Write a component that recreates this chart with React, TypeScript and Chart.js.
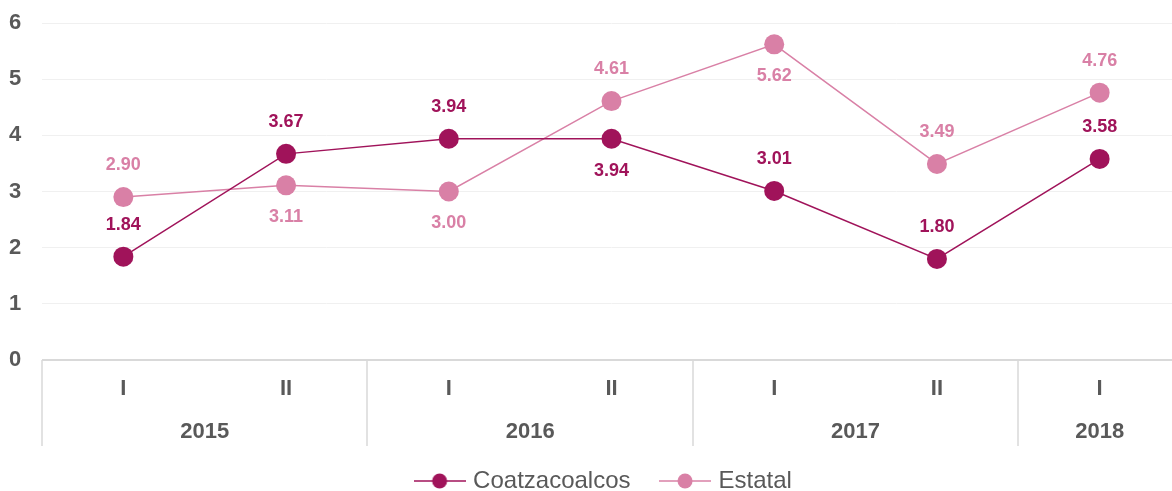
import React, { useEffect, useRef } from "react";
import { Chart, registerables } from "chart.js";

Chart.register(...registerables);

const periods = ["I", "II", "I", "II", "I", "II", "I"];
const years = ["2015", "2016", "2017", "2018"];
const yearSpans: number[][] = [[0, 1], [2, 3], [4, 5], [6, 6]];
const coatzacoalcos = [1.84, 3.67, 3.94, 3.94, 3.01, 1.8, 3.58];
const estatal = [2.9, 3.11, 3.0, 4.61, 5.62, 3.49, 4.76];
const coatzLabelPos = ["above", "above", "above", "below", "above", "above", "above"];
const estatalLabelPos = ["above", "below", "below", "above", "below", "above", "above"];
const seriesNames = ["Coatzacoalcos", "Estatal"];

const COATZ = "#A0135A";
const ESTATAL = "#D980A6";
const GRAY = "#595959";
const FONT = "Arial, 'Liberation Sans', sans-serif";

function makeMarker(color: string) {
  const c = document.createElement("canvas");
  c.width = 52;
  c.height = 18;
  const g = c.getContext("2d")!;
  g.strokeStyle = color;
  g.lineWidth = 1.5;
  g.beginPath();
  g.moveTo(0, 9);
  g.lineTo(52, 9);
  g.stroke();
  g.fillStyle = color;
  g.beginPath();
  g.arc(26, 9, 7.5, 0, Math.PI * 2);
  g.fill();
  return c;
}

const dataLabelsPlugin = {
  id: "dataLabels",
  afterDatasetsDraw(chart: any) {
    const ctx = chart.ctx;
    const positions = [coatzLabelPos, estatalLabelPos];
    const colors = [COATZ, ESTATAL];
    ctx.save();
    ctx.font = `bold 18px ${FONT}`;
    ctx.textAlign = "center";
    ctx.textBaseline = "middle";
    chart.data.datasets.forEach((ds: any, di: number) => {
      const meta = chart.getDatasetMeta(di);
      ctx.fillStyle = colors[di];
      meta.data.forEach((pt: any, i: number) => {
        const v = ds.data[i] as number;
        const dy = positions[di][i] === "above" ? -32 : 32;
        ctx.fillText(v.toFixed(2), pt.x, pt.y + dy);
      });
    });
    ctx.restore();
  },
};

const xAxisPlugin = {
  id: "twoLevelAxis",
  afterDraw(chart: any) {
    const ctx = chart.ctx;
    const xs = chart.scales.x;
    const area = chart.chartArea;
    const bottom = area.bottom;
    ctx.save();
    ctx.strokeStyle = "#d9d9d9";
    ctx.lineWidth = 1.5;
    const bounds = [0, 2, 4, 6];
    bounds.forEach((b) => {
      const x = Math.round(xs.getPixelForValue(b - 0.5));
      ctx.beginPath();
      ctx.moveTo(x, bottom);
      ctx.lineTo(x, bottom + 86);
      ctx.stroke();
    });
    ctx.fillStyle = GRAY;
    ctx.textAlign = "center";
    ctx.textBaseline = "middle";
    ctx.font = `bold 22px ${FONT}`;
    periods.forEach((p, i) => {
      ctx.fillText(p, xs.getPixelForValue(i), bottom + 29);
    });
    years.forEach((y, i) => {
      const [a, b] = yearSpans[i];
      const x = (xs.getPixelForValue(a) + xs.getPixelForValue(b)) / 2;
      ctx.fillText(y, x, bottom + 72);
    });
    ctx.restore();
  },
};

export default function App() {
  const ref = useRef<HTMLCanvasElement | null>(null);

  useEffect(() => {
    if (!ref.current) return;
    const markers = [makeMarker(COATZ), makeMarker(ESTATAL)];
    const chart = new Chart(ref.current, {
      type: "line",
      data: {
        labels: periods,
        datasets: [
          {
            label: seriesNames[0],
            data: coatzacoalcos,
            borderColor: COATZ,
            backgroundColor: COATZ,
            borderWidth: 1.5,
            pointRadius: 10,
            pointHoverRadius: 10,
            pointBorderWidth: 0,
            pointBackgroundColor: COATZ,
            tension: 0,
          },
          {
            label: seriesNames[1],
            data: estatal,
            borderColor: ESTATAL,
            backgroundColor: ESTATAL,
            borderWidth: 1.5,
            pointRadius: 10,
            pointHoverRadius: 10,
            pointBorderWidth: 0,
            pointBackgroundColor: ESTATAL,
            tension: 0,
          },
        ],
      },
      options: {
        animation: false,
        responsive: false,
        events: [],
        layout: { padding: { left: 19, right: 0, top: 23, bottom: 0 } },
        plugins: {
          tooltip: { enabled: false },
          legend: {
            position: "bottom",
            labels: {
              usePointStyle: true,
              pointStyleWidth: 43,
              padding: 33,
              color: GRAY,
              font: { size: 24, family: FONT },
              generateLabels: () =>
                seriesNames.map((name, i) => ({
                  text: name,
                  pointStyle: markers[i] as any,
                  fillStyle: i === 0 ? COATZ : ESTATAL,
                  strokeStyle: i === 0 ? COATZ : ESTATAL,
                  lineWidth: 0,
                  hidden: false,
                  datasetIndex: i,
                  fontColor: GRAY,
                })),
            },
          },
        },
        scales: {
          x: {
            offset: true,
            grid: { display: false },
            border: { display: false },
            ticks: { display: false },
            afterFit: (s: any) => {
              s.height = 76;
            },
          },
          y: {
            min: 0,
            max: 6,
            ticks: {
              stepSize: 1,
              mirror: true,
              padding: -33,
              color: GRAY,
              font: { size: 22, weight: "bold", family: FONT },
            },
            grid: {
              drawTicks: false,
              color: (c: any) => (c.tick && c.tick.value === 0 ? "#d9d9d9" : "#f0f0f0"),
              lineWidth: (c: any) => (c.tick && c.tick.value === 0 ? 2 : 1),
            },
            border: { display: false },
            afterFit: (s: any) => {
              s.width = 23;
            },
          },
        },
      },
      plugins: [dataLabelsPlugin, xAxisPlugin],
    });
    return () => chart.destroy();
  }, []);

  return (
    <div
      style={{
        position: "fixed",
        left: 0,
        top: 0,
        width: 1172,
        height: 491,
        overflow: "hidden",
        background: "#ffffff",
      }}
    >
      <canvas ref={ref} width={1191} height={503} style={{ display: "block" }} />
    </div>
  );
}
